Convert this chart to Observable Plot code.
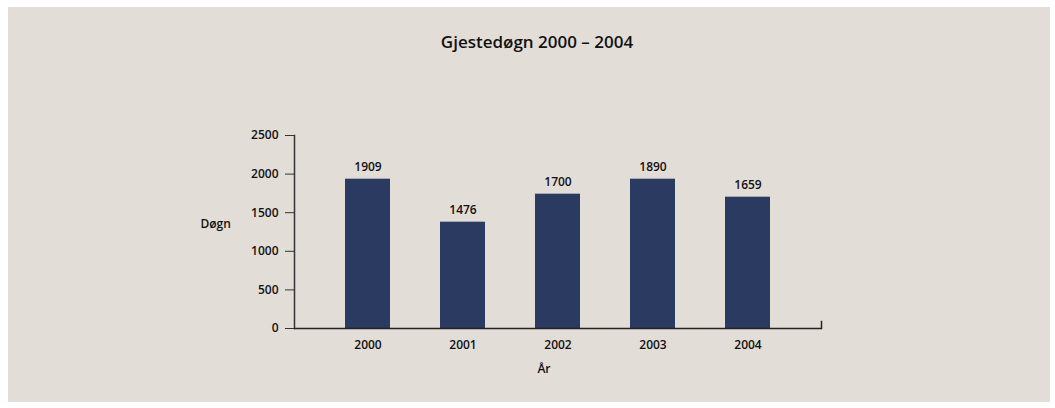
<!DOCTYPE html>
<html>
<head>
<meta charset="utf-8">
<script src="https://cdn.jsdelivr.net/npm/d3@7"></script>
<script src="https://cdn.jsdelivr.net/npm/@observablehq/plot@0.6"></script>
<style>
  html, body { margin: 0; padding: 0; background: #ffffff; }
  #wrap { position: relative; width: 1055px; height: 408px; overflow: hidden; }
  #panel { position: absolute; left: 8px; top: 7px; width: 1042px; height: 395px; background: #e3ddd8; }
  #title { position: absolute; left: 0; top: 30px; width: 1074px; text-align: center;
           font-family: "Open Sans", sans-serif; font-weight: 600; font-size: 17px; color: #111; }
  #chart { position: absolute; left: 0; top: 0; }
  #chart svg { background: transparent; }
</style>
</head>
<body>
<div id="wrap">
  <div id="panel"></div>
  <div id="title">Gjestedøgn 2000 – 2004</div>
  <div id="chart"></div>
</div>
<script>
const years = ["2000", "2001", "2002", "2003", "2004"];
const barHeights = [1934, 1377, 1740, 1934, 1701];
const valueLabels = ["1909", "1476", "1700", "1890", "1659"];
const yTicks = [0, 500, 1000, 1500, 2000, 2500];
const yLabel = "Døgn";
const xLabel = "År";

const data = years.map((y, i) => ({year: y, value: barHeights[i], label: valueLabels[i]}));

const font = "Open Sans, sans-serif";
const chart = Plot.plot({
  width: 1055,
  height: 408,
  marginLeft: 294,
  marginRight: 234,
  marginTop: 135,
  marginBottom: 80,
  style: {background: "transparent", fontFamily: font, fontSize: "12px", color: "#111", fontWeight: 600},
  x: {domain: years, paddingInner: 0.53, paddingOuter: 0.515, label: null},
  y: {domain: [0, 2500], label: null},
  marks: [
    Plot.barY(data, {x: "year", y: "value", fill: "#2b3a60"}),
    Plot.text(data, {x: "year", y: "value", text: "label", dy: -12, fontSize: 12, fill: "#111"}),
    Plot.axisY({ticks: yTicks, tickFormat: d => String(d), tickSize: 9, tickPadding: 7, stroke: "#333", fontSize: 12, label: null}),
    Plot.axisX({tickSize: 0, tickPadding: 12, fontSize: 12, label: null}),
    Plot.frame({anchor: "left", stroke: "#333", strokeWidth: 1.5}),
    Plot.ruleY([0], {stroke: "#222", strokeWidth: 1.5}),
    Plot.frame({anchor: "right", insetTop: 186, stroke: "#222", strokeWidth: 1.5}),
    Plot.text([yLabel], {frameAnchor: "left", textAnchor: "start", dx: -94, dy: -8, fontSize: 12, fill: "#111"}),
    Plot.text([xLabel], {frameAnchor: "bottom", dx: -14, dy: 44, fontSize: 12, fill: "#111"})
  ]
});
document.getElementById("chart").appendChild(chart);
</script>
</body>
</html>
